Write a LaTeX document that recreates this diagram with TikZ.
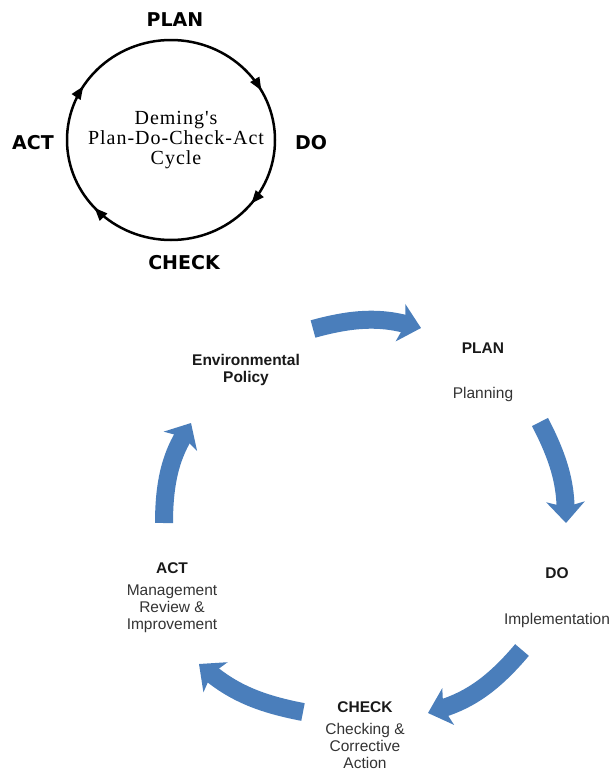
\documentclass[tikz,border=0pt]{standalone}
\usepackage{fontspec}
\setmainfont{Liberation Sans}
\newfontfamily\demingfont{Liberation Serif}[LetterSpace=5]
\newfontfamily\heavyfont{DejaVu Sans}
\usetikzlibrary{arrows.meta, positioning, decorations.markings}
\definecolor{cycleblue}{RGB}{74,126,187}

\begin{document}
\begin{tikzpicture}[
    x=1pt, y=-1pt,
    phase/.style={font=\fontsize{15.5}{17}\selectfont\bfseries, text=black!90, inner sep=0pt, align=center},
    desc/.style={font=\fontsize{15.5}{17}\selectfont, text=black!80, inner sep=0pt, align=center},
    stage/.style={font=\heavyfont\bfseries\fontsize{19}{21}\selectfont, inner sep=0pt},
    bigarrow/.style={cycleblue, line width=18pt, -{Stealth[length=21pt, width=38pt, inset=5pt]}},
    ring/.style={line width=2.5pt, postaction={decorate}, decoration={markings,
        mark=at position 0.108 with {\arrow{Triangle[length=13pt, width=10pt]}},
        mark=at position 0.383 with {\arrow{Triangle[length=13pt, width=10pt]}},
        mark=at position 0.589 with {\arrow{Triangle[length=13pt, width=10pt]}},
        mark=at position 0.919 with {\arrow{Triangle[length=13pt, width=10pt]}}}},
]
\useasboundingbox (0,0) rectangle (613,771);

% Deming's cycle
\coordinate (hub) at (171,140);
\draw[ring] (hub) circle[x radius=104, y radius=100];
\node[font=\demingfont\fontsize{20}{20}\selectfont, align=center] (title) at (176,140) {Deming's\\Plan-Do-Check-Act\\Cycle};
\node[stage] (plan) at (175,20) {PLAN};
\node[stage] (do) at (311,143) {DO};
\node[stage] (check) at (184,263) {CHECK};
\node[stage] (act) at (33,143) {ACT};

% environmental management cycle
\node[phase] (policy) at (246,370) {Environmental\\Policy};
\node[phase] (p) at (483,348) {PLAN};
\node[desc] (planning) at (483,394) {Planning};
\node[phase] (d) at (557,573) {DO};
\node[desc] (implement) at (557,620) {Implementation};
\node[phase] (c) at (365,707) {CHECK};
\node[desc] (checking) at (365,746) {Checking \&\\Corrective\\Action};
\node[phase] (a) at (172,568) {ACT};
\node[desc] (review) at (172,609) {Management\\Review \&\\Improvement};

\coordinate (a1s) at (313,329);
\coordinate (a1e) at (421,328);
\coordinate (a2s) at (540,422);
\coordinate (a2e) at (566,523);
\coordinate (a3s) at (522,650);
\coordinate (a3e) at (428,713);
\coordinate (a4s) at (303,712);
\coordinate (a4e) at (199,664);
\coordinate (a5s) at (164,523);
\coordinate (a5e) at (191,423);

\draw[bigarrow] (a1s) to[bend left=15] (a1e);
\draw[bigarrow] (a2s) to[bend left=13] (a2e);
\draw[bigarrow] (a3s) to[bend left=16] (a3e);
\draw[bigarrow] (a4s) to[bend left=14] (a4e);
\draw[bigarrow] (a5s) to[bend left=15] (a5e);
\end{tikzpicture}
\end{document}
